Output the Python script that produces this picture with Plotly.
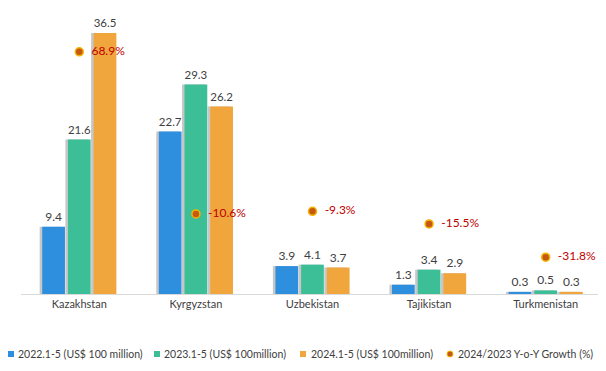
import plotly.graph_objects as go

countries = ["Kazakhstan", "Kyrgyzstan", "Uzbekistan", "Tajikistan", "Turkmenistan"]
v2022 = [9.4, 22.7, 3.9, 1.3, 0.3]
v2023 = [21.6, 29.3, 4.1, 3.4, 0.5]
v2024 = [36.5, 26.2, 3.7, 2.9, 0.3]
growth = [68.9, -10.6, -9.3, -15.5, -31.8]

names = ["2022.1-5 (US$ 100 million)", "2023.1-5 (US$ 100million)",
         "2024.1-5 (US$ 100million)", "2024/2023 Y-o-Y Growth (%)"]
colors = ["#2E8FDE", "#3CBE96", "#F0A63C"]
DOT = "#C65911"
DOT_EDGE = "#F5B400"
FONT = "Lato"
LBL = "#404040"

# the page body adds an 8px offset; compensate so the figure lands like the reference
OFF = 8
FW, FH = 606 - OFF, 371 - OFF
L, PW, T, PH = 21 - OFF, 583, 10 - OFF, 284

fig = go.Figure()
series = [v2022, v2023, v2024]
offsets = [-0.318, -0.0975, 0.123]
W = 0.195

# soft shadows on the left of each bar
for vals, off in zip(series, offsets):
    fig.add_trace(go.Bar(x=countries, y=vals, offset=off - 0.022, width=W,
                         marker=dict(color="rgba(0,0,0,0.22)", line=dict(width=0)),
                         showlegend=False, hoverinfo="skip"))

for vals, off, c, n in zip(series, offsets, colors, names[:3]):
    fig.add_trace(go.Bar(x=countries, y=vals, offset=off, width=W, name=n,
                         marker=dict(color=c, line=dict(width=0)),
                         text=[f"{v:.1f}" for v in vals], textposition="outside",
                         cliponaxis=False, showlegend=False,
                         textfont=dict(family=FONT, size=12, color=LBL)))

fig.add_trace(go.Scatter(x=countries, y=growth, yaxis="y2", mode="markers+text",
                         name=names[3], showlegend=False, cliponaxis=False,
                         marker=dict(size=8, color=DOT, line=dict(color=DOT_EDGE, width=1.5)),
                         text=[f"  {g:.1f}%" for g in growth], textposition="middle right",
                         textfont=dict(family=FONT, size=12, color="#C00000")))

# custom one-line legend, positions given in window pixels
def px(x):
    return (x - OFF - L) / PW
def py(y):
    return (T + PH - (y - OFF)) / PH

leg_y = 354
sym_x = [11, 157, 303, 450]
txt_x = [15.5, 162, 309, 455.5]
shapes = []
annotations = []
for i in range(4):
    if i < 3:
        shapes.append(dict(type="rect", xref="paper", yref="paper",
                           x0=px(sym_x[i] - 3), x1=px(sym_x[i] + 3),
                           y0=py(leg_y + 3), y1=py(leg_y - 3),
                           fillcolor=colors[i], line=dict(width=0)))
    else:
        shapes.append(dict(type="circle", xref="paper", yref="paper",
                           x0=px(sym_x[i] - 3), x1=px(sym_x[i] + 3),
                           y0=py(leg_y + 3), y1=py(leg_y - 3),
                           fillcolor=DOT, line=dict(color=DOT_EDGE, width=1)))
    annotations.append(dict(text=names[i], xref="paper", yref="paper",
                            x=px(txt_x[i]), y=py(leg_y), xanchor="left", yanchor="middle",
                            showarrow=False, font=dict(family=FONT, size=10.5, color=LBL)))

fig.update_layout(
    width=FW, height=FH,
    barmode="overlay",
    paper_bgcolor="white", plot_bgcolor="white",
    margin=dict(l=L, r=FW - L - PW, t=T, b=FH - T - PH, autoexpand=False),
    font=dict(family=FONT, size=11, color=LBL),
    xaxis=dict(range=[-0.5, 4.5], showline=True, linecolor="#D9D9D9", linewidth=1, ticks="",
               showgrid=False, tickfont=dict(family=FONT, size=11, color=LBL)),
    yaxis=dict(range=[0, 39.7], visible=False, showgrid=False),
    yaxis2=dict(range=[-49.85, 89.4], overlaying="y", visible=False, showgrid=False),
    showlegend=False,
    shapes=shapes,
    annotations=annotations,
)

fig.write_html("out.html")
